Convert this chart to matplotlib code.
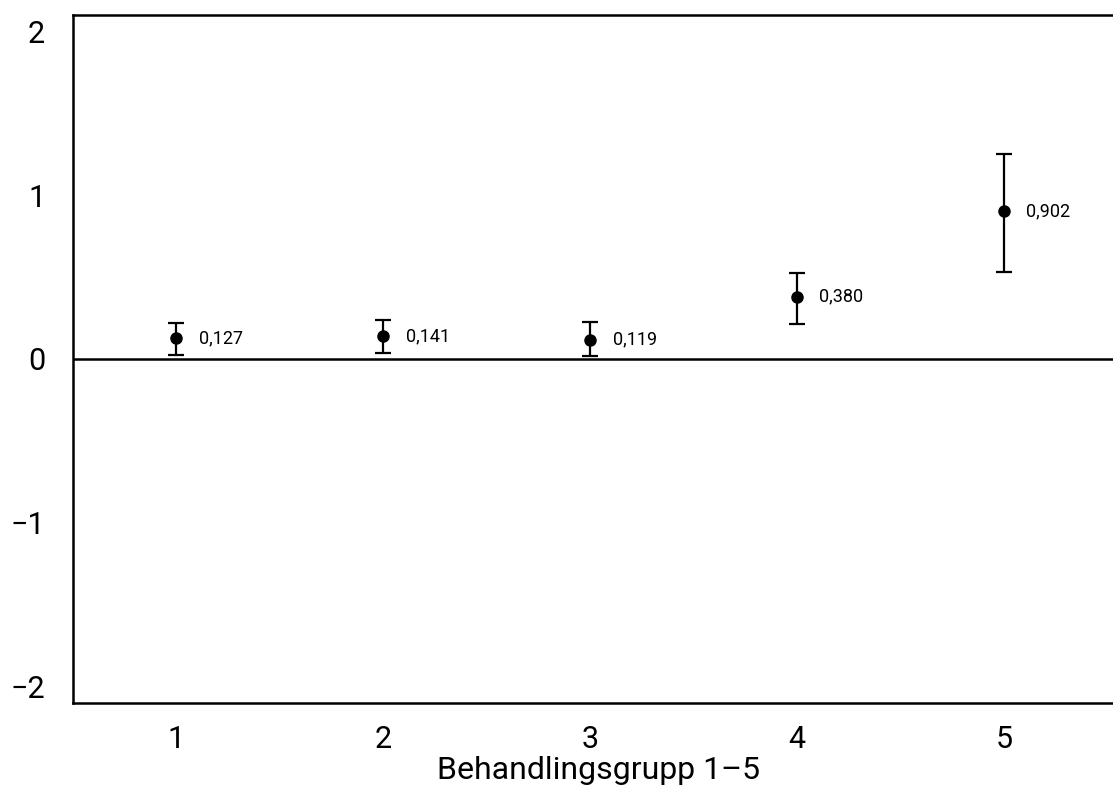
import matplotlib
matplotlib.use("Agg")
import matplotlib.pyplot as plt

groups = [1, 2, 3, 4, 5]
means = [0.127, 0.141, 0.119, 0.380, 0.902]
err_low = [0.105, 0.105, 0.10, 0.165, 0.37]
err_high = [0.095, 0.10, 0.105, 0.145, 0.35]
labels = ["0,127", "0,141", "0,119", "0,380", "0,902"]
yticks = [-2, -1, 0, 1, 2]

plt.rcParams['font.family'] = ['Roboto', 'DejaVu Sans']

fig = plt.figure(figsize=(11.13, 7.9), dpi=100)
ax = fig.add_axes([73 / 1113, 87 / 790, 1 - 73 / 1113 + 0.01, (703 - 15) / 790])

ax.axhline(0, color='black', linewidth=1.8, zorder=1)
ax.errorbar(groups, means, yerr=[err_low, err_high], fmt='o', color='black',
            markersize=8, elinewidth=1.6, capsize=6, capthick=1.6, zorder=3)

for x, y, lab in zip(groups, means, labels):
    ax.annotate(lab, (x, y), xytext=(16, 0), textcoords='offset points',
                va='center', ha='left', fontsize=13)

ax.set_xlim(0.5, 5.58)
ax.set_ylim(-2.1, 2.1)
ax.set_xticks(groups)
ax.set_yticks(yticks)
ax.set_yticklabels(["\u2212" + str(abs(t)) if t < 0 else str(t) for t in yticks])
ax.tick_params(length=0, labelsize=22, pad=20)
ax.tick_params(axis='x', pad=16)
ax.set_xlabel("Behandlingsgrupp 1\u20135", fontsize=23, labelpad=1)

for side in ['left', 'top', 'bottom']:
    ax.spines[side].set_linewidth(1.8)
ax.spines['right'].set_visible(False)

fig.savefig("out.png", dpi=100)
